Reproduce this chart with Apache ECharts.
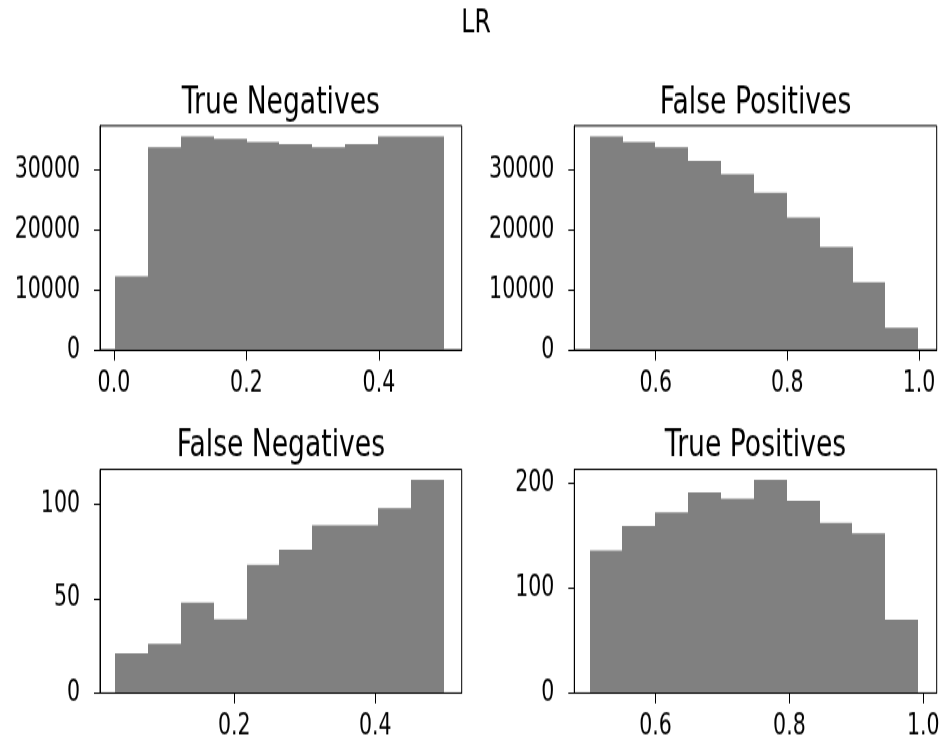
<!DOCTYPE html>
<html>
<head>
<meta charset="utf-8">
<title>LR</title>
<script src="https://cdn.jsdelivr.net/npm/echarts@6/dist/echarts.min.js"></script>
<style>
  html, body { margin: 0; padding: 0; background: #fff; }
  body { width: 942px; height: 740px; overflow: visible; }
  /* The figure is laid out at 942x529 and stretched to the full 740px height */
  #chart { width: 942px; height: 529px; transform: scaleY(1.39887); transform-origin: 0 0; }
</style>
</head>
<body>
<div id="chart"></div>
<script>
// Histogram of predicted probabilities, split by confusion-matrix cell.
const panelTitles = ['True Negatives', 'False Positives', 'False Negatives', 'True Positives'];

const tnEdges  = [0.0016, 0.0513, 0.1009, 0.1506, 0.2003, 0.2499, 0.2996, 0.3493, 0.3989, 0.4486, 0.4982];
const tnCounts = [12300, 33800, 35600, 35200, 34700, 34300, 33800, 34300, 35600, 35600];

const fpEdges  = [0.4997, 0.5496, 0.5995, 0.6495, 0.6994, 0.7493, 0.7992, 0.8491, 0.8991, 0.9490, 0.9989];
const fpCounts = [35600, 34700, 33800, 31500, 29300, 26200, 22100, 17200, 11300, 3700];

const fnEdges  = [0.0308, 0.0775, 0.1241, 0.1708, 0.2175, 0.2641, 0.3108, 0.3575, 0.4041, 0.4508, 0.4975];
const fnCounts = [21, 26, 48, 39, 68, 76, 89, 89, 98, 113];

const tpEdges  = [0.5013, 0.5504, 0.5995, 0.6487, 0.6978, 0.7469, 0.7960, 0.8451, 0.8943, 0.9434, 0.9925];
const tpCounts = [136, 159, 172, 191, 185, 203, 183, 162, 152, 70];

// Tick labels
const bigCountTicks = [0, 10000, 20000, 30000];
const fnCountTicks  = [0, 50, 100];
const tpCountTicks  = [0, 100, 200];
const lowProbTicks  = [0.0, 0.2, 0.4];
const fnProbTicks   = [0.2, 0.4];
const highProbTicks = [0.6, 0.8, 1.0];

const FONT = 'DejaVu Sans';
const INK = '#000';
const BAR = '#808080';

// [left, top, width, height, xMin, xMax, xTicks, yMax, yTicks, edges, counts]
const panels = [
  [100,   89.9, 361.7, 160.3, -0.021, 0.525,  lowProbTicks,  37380,  bigCountTicks, tnEdges, tnCounts],
  [574.3, 89.9, 362.4, 160.3, 0.4763, 1.027,  highProbTicks, 37380,  bigCountTicks, fpEdges, fpCounts],
  [100,   335.5, 361.7, 159.9, 0.0095, 0.5226, fnProbTicks,  118.65, fnCountTicks,  fnEdges, fnCounts],
  [574.3, 335.5, 362.4, 159.9, 0.4785, 1.0202, highProbTicks, 213.15, tpCountTicks, tpEdges, tpCounts]
];

const grids = [], xAxes = [], yAxes = [], series = [], titles = [];

titles.push({
  text: 'LR', left: 476, top: 5, padding: 0, textAlign: 'center',
  textStyle: { fontFamily: FONT, fontSize: 23.5, fontWeight: 'normal', color: INK }
});

panels.forEach((p, i) => {
  const [left, top, width, height, xMin, xMax, xTicks, yMax, yTicks, edges, counts] = p;
  grids.push({
    left, top, width, height,
    show: true, borderColor: INK, borderWidth: 1, backgroundColor: 'transparent',
    outerBoundsMode: 'none'
  });
  titles.push({
    text: panelTitles[i], left: left + width / 2, top: top - 29.8, padding: 0, textAlign: 'center',
    textStyle: { fontFamily: FONT, fontSize: 26.6, fontWeight: 'normal', color: INK }
  });
  xAxes.push({
    type: 'value', gridIndex: i, min: xMin, max: xMax, z: 10,
    axisLine: { show: true, onZero: false, lineStyle: { color: INK, width: 1 } },
    axisTick: { show: true, length: 7.5, customValues: xTicks, lineStyle: { color: INK, width: 1 } },
    axisLabel: {
      customValues: xTicks, margin: 13.5, color: INK, fontFamily: FONT, fontSize: 20.5,
      formatter: v => v.toFixed(1)
    },
    splitLine: { show: false }
  });
  yAxes.push({
    type: 'value', gridIndex: i, min: 0, max: yMax, z: 10,
    axisLine: { show: true, onZero: false, lineStyle: { color: INK, width: 1 } },
    axisTick: { show: true, length: 6, customValues: yTicks, lineStyle: { color: INK, width: 1 } },
    axisLabel: {
      customValues: yTicks, margin: 20, color: INK, fontFamily: FONT, fontSize: 20.5,
      formatter: v => String(v)
    },
    splitLine: { show: false }
  });
  const bins = counts.map((c, j) => [edges[j], edges[j + 1], c]);
  series.push({
    type: 'custom', xAxisIndex: i, yAxisIndex: i, silent: true,
    encode: { x: [0, 1], y: 2 },
    data: bins,
    renderItem: (params, api) => {
      const topLeft = api.coord([api.value(0), api.value(2)]);
      const bottomRight = api.coord([api.value(1), 0]);
      // snap the vertical edges to whole pixels so neighbouring bins meet without seams
      const x0 = Math.round(topLeft[0]);
      const x1 = Math.round(bottomRight[0]);
      return {
        type: 'rect',
        shape: { x: x0, y: topLeft[1], width: x1 - x0, height: bottomRight[1] - topLeft[1] },
        style: { fill: BAR }
      };
    }
  });
});

const chart = echarts.init(document.getElementById('chart'), null, { renderer: 'canvas' });
chart.setOption({
  animation: false,
  backgroundColor: '#fff',
  title: titles,
  grid: grids,
  xAxis: xAxes,
  yAxis: yAxes,
  series
});
</script>
</body>
</html>
